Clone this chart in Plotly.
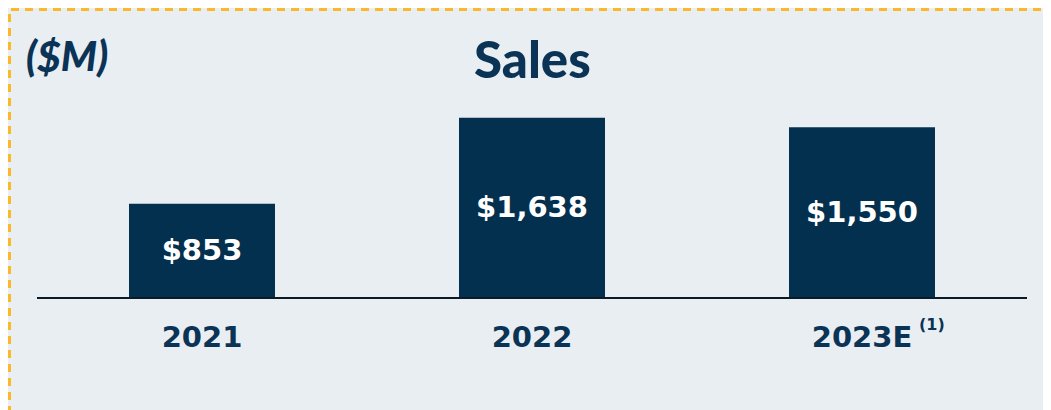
import plotly.graph_objects as go

categories = ["2021", "2022", "2023E"]
sales = [853, 1638, 1550]
labels = ["$853", "$1,638", "$1,550"]

NAVY = "#04304f"
TEXT = "#0b3356"
BG = "#e9eef2"
ORANGE = "#fbb92a"
FONT = "Lato"
NUMFONT = "DejaVu Sans"
WT = 900

W, H = 1051, 410
OFF = 8  # page body margin
L, R, T, B = 37 - OFF, 1051 - (1027 - OFF), 100 - OFF, 410 - (297 - OFF)
PW, PH = W - L - R, H - T - B

def px_x(p):  # screen pixel -> paper
    return (p - OFF - L) / PW

def px_y(p):
    return (H - B - (p - OFF)) / PH

fig = go.Figure()
fig.add_trace(go.Bar(
    x=categories, y=sales, text=labels,
    marker=dict(color=NAVY, line=dict(width=0)),
    width=0.4424,
    textposition="inside", insidetextanchor="middle", textangle=0,
    constraintext="none",
    textfont=dict(family=NUMFONT, size=29, color="white", weight="bold"),
    hoverinfo="skip",
))

fig.update_layout(
    width=W, height=H,
    margin=dict(l=L, r=R, t=T, b=B, pad=0),
    paper_bgcolor=BG, plot_bgcolor="rgba(0,0,0,0)",
    showlegend=False,
    xaxis=dict(
        range=[-0.5, 2.5], showgrid=False, zeroline=False,
        showline=True, linecolor="#0a1a26", linewidth=2,
        ticks="", tickfont=dict(family=NUMFONT, size=29, color=TEXT, weight="bold"),
        ticklabelstandoff=13,
    ),
    yaxis=dict(range=[0, 1800], visible=False),
    shapes=[dict(
        type="rect", xref="paper", yref="paper", layer="below",
        x0=px_x(9.5), x1=px_x(1080), y0=px_y(440), y1=px_y(9.5),
        line=dict(color=ORANGE, width=3, dash="8px,6px"),
    )],
    annotations=[
        dict(text="Sales", xref="paper", yref="paper", x=0.5, y=px_y(59),
             xanchor="center", yanchor="middle", showarrow=False,
             font=dict(family=FONT, size=51, color=TEXT, weight=WT)),
        dict(text="<i>($M)</i>", xref="paper", yref="paper", x=px_x(24), y=px_y(55),
             xanchor="left", yanchor="middle", showarrow=False,
             font=dict(family=FONT, size=41, color=TEXT, weight=WT, style="italic")),
        dict(text="(1)", xref="paper", yref="paper", x=px_x(917), y=px_y(324),
             xanchor="left", yanchor="middle", showarrow=False,
             font=dict(family=NUMFONT, size=16, color=TEXT, weight="bold")),
    ],
)

fig.write_html("out.html")
